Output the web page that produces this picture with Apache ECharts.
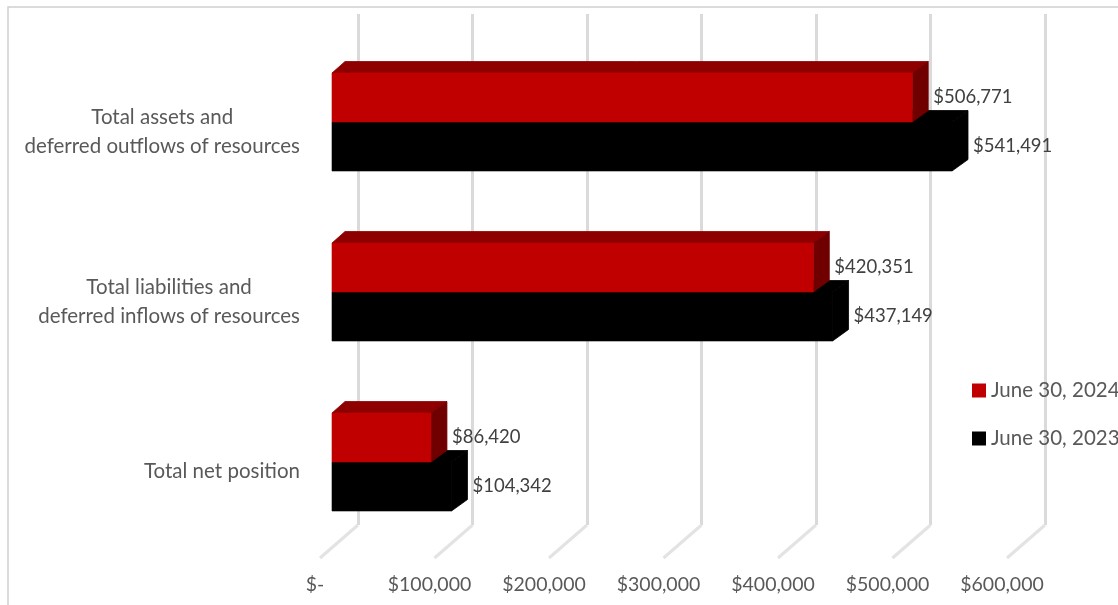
<!DOCTYPE html>
<html><head><meta charset="utf-8">
<script src="https://cdn.jsdelivr.net/npm/echarts@6/dist/echarts.min.js"></script>
<style>html,body{margin:0;padding:0;background:#fff}#c{width:1118px;height:605px}</style>
</head><body><div id="c"></div>
<script>
// ---- data ----
const categories = [
  'Total assets and\ndeferred outflows of resources',
  'Total liabilities and\ndeferred inflows of resources',
  'Total net position'
];
const seriesNames = ['June 30, 2024', 'June 30, 2023'];
const values2024 = [506771, 420351, 86420];
const values2023 = [541491, 437149, 104342];
const xTickValues = [0, 100000, 200000, 300000, 400000, 500000, 600000];
const xTickLabels = ['$-', '$100,000', '$200,000', '$300,000', '$400,000', '$500,000', '$600,000'];

// ---- style ----
const FONT = 'Lato';
const TXT = '#595959';
const BAR_FRAC = 49 / 170;
const DX_L = 13, DX_R = 16, DY = 11.5;

function fmtMoney(v) { return '$' + v.toLocaleString('en-US'); }

function makeBarRender(slot, col) {
  return function (params, api) {
    const v = api.value(0), cat = api.value(1);
    const c0 = api.coord([0, cat]);
    const c1 = api.coord([v, cat]);
    const band = api.size([0, 1])[1];
    const h = band * BAR_FRAC;
    const yT = slot === 0 ? c0[1] - h : c0[1];
    const yB = yT + h;
    const x0 = c0[0], x1 = c1[0];
    return {
      type: 'group',
      children: [
        { type: 'polygon', shape: { points: [[x0, yT], [x1, yT], [x1 + DX_R, yT - DY], [x0 + DX_L, yT - DY]] }, style: { fill: col.top, stroke: col.top, lineWidth: 0.8 } },
        { type: 'polygon', shape: { points: [[x1, yT], [x1 + DX_R, yT - DY], [x1 + DX_R, yB - DY], [x1, yB]] }, style: { fill: col.side, stroke: col.side, lineWidth: 0.8 } },
        { type: 'rect', shape: { x: x0, y: yT, width: x1 - x0, height: h }, style: { fill: col.front, stroke: col.front, lineWidth: 0.6 } },
        { type: 'text', style: { text: fmtMoney(v), x: x1 + DX_R + 5, y: (yT + yB) / 2, fill: '#404040', fontFamily: FONT, fontSize: 18.5, align: 'left', verticalAlign: 'middle' } }
      ]
    };
  };
}

const chart = echarts.init(document.getElementById('c'), null, { renderer: 'canvas' });
chart.setOption({
  animation: false,
  backgroundColor: '#fff',
  graphic: [{ type: 'rect', shape: { x: 8, y: 7, width: 1300, height: 800 }, style: { fill: 'none', stroke: '#d0d0d0', lineWidth: 1.5 }, silent: true, z: -10 }],
  grid: [
    { left: 332, right: 99, top: 37, bottom: 58 },
    { left: 358, right: 73, top: 14, bottom: 80 },
    { left: 315, right: 116, top: 550, bottom: 45 }
  ],
  xAxis: [
    { gridIndex: 0, type: 'value', min: 0, max: 600000, show: false },
    { gridIndex: 1, type: 'value', min: 0, max: 600000, interval: 100000,
      axisLine: { show: false }, axisTick: { show: false }, axisLabel: { show: false },
      splitLine: { show: true, lineStyle: { color: '#dadada', width: 3 } } },
    { gridIndex: 2, type: 'value', min: 0, max: 600000, interval: 100000,
      axisLine: { show: false }, axisTick: { show: false }, splitLine: { show: false },
      axisLabel: { margin: 15, color: TXT, fontFamily: FONT, fontSize: 19.5,
        formatter: function (v) { const i = xTickValues.indexOf(v); return i >= 0 ? xTickLabels[i] : ''; } } }
  ],
  yAxis: [
    { gridIndex: 0, type: 'category', data: categories, inverse: true,
      axisLine: { show: false }, axisTick: { show: false }, splitLine: { show: false },
      axisLabel: { align: 'right', margin: 32, padding: [19, 0, 0, 0],
        formatter: function (val) { return val.split('\n').map(s => '{c|' + s + '}').join('\n'); },
        rich: { c: { align: 'center', fontFamily: FONT, fontSize: 20.5, color: TXT, lineHeight: 29 } } } },
    { gridIndex: 1, type: 'value', min: 0, max: 1, show: false },
    { gridIndex: 2, type: 'value', min: 0, max: 1, show: false }
  ],
  legend: {
    data: seriesNames, orient: 'vertical', left: 972, top: 380, padding: 0,
    icon: 'rect', itemWidth: 14, itemHeight: 14, itemGap: 27,
    textStyle: { fontFamily: FONT, fontSize: 20.5, color: TXT }
  },
  series: [
    { name: 'floor', type: 'custom', xAxisIndex: 1, yAxisIndex: 1, silent: true, z: 1,
      data: xTickValues.map(v => [v, 0]),
      renderItem: function (params, api) {
        const p = api.coord([api.value(0), 0]);
        return { type: 'line', shape: { x1: p[0], y1: p[1], x2: p[0] - 38, y2: p[1] + 33 }, style: { stroke: '#e3e3e3', lineWidth: 3 } };
      } },
    { name: seriesNames[0], type: 'custom', xAxisIndex: 0, yAxisIndex: 0, z: 4,
      itemStyle: { color: '#c00000' },
      data: values2024.map((v, i) => [v, i]),
      renderItem: makeBarRender(0, { front: '#c00000', top: '#8e0000', side: '#700000' }) },
    { name: seriesNames[1], type: 'custom', xAxisIndex: 0, yAxisIndex: 0, z: 3,
      itemStyle: { color: '#000000' },
      data: values2023.map((v, i) => [v, i]),
      renderItem: makeBarRender(1, { front: '#000000', top: '#000000', side: '#000000' }) }
  ]
});
</script>
</body></html>
